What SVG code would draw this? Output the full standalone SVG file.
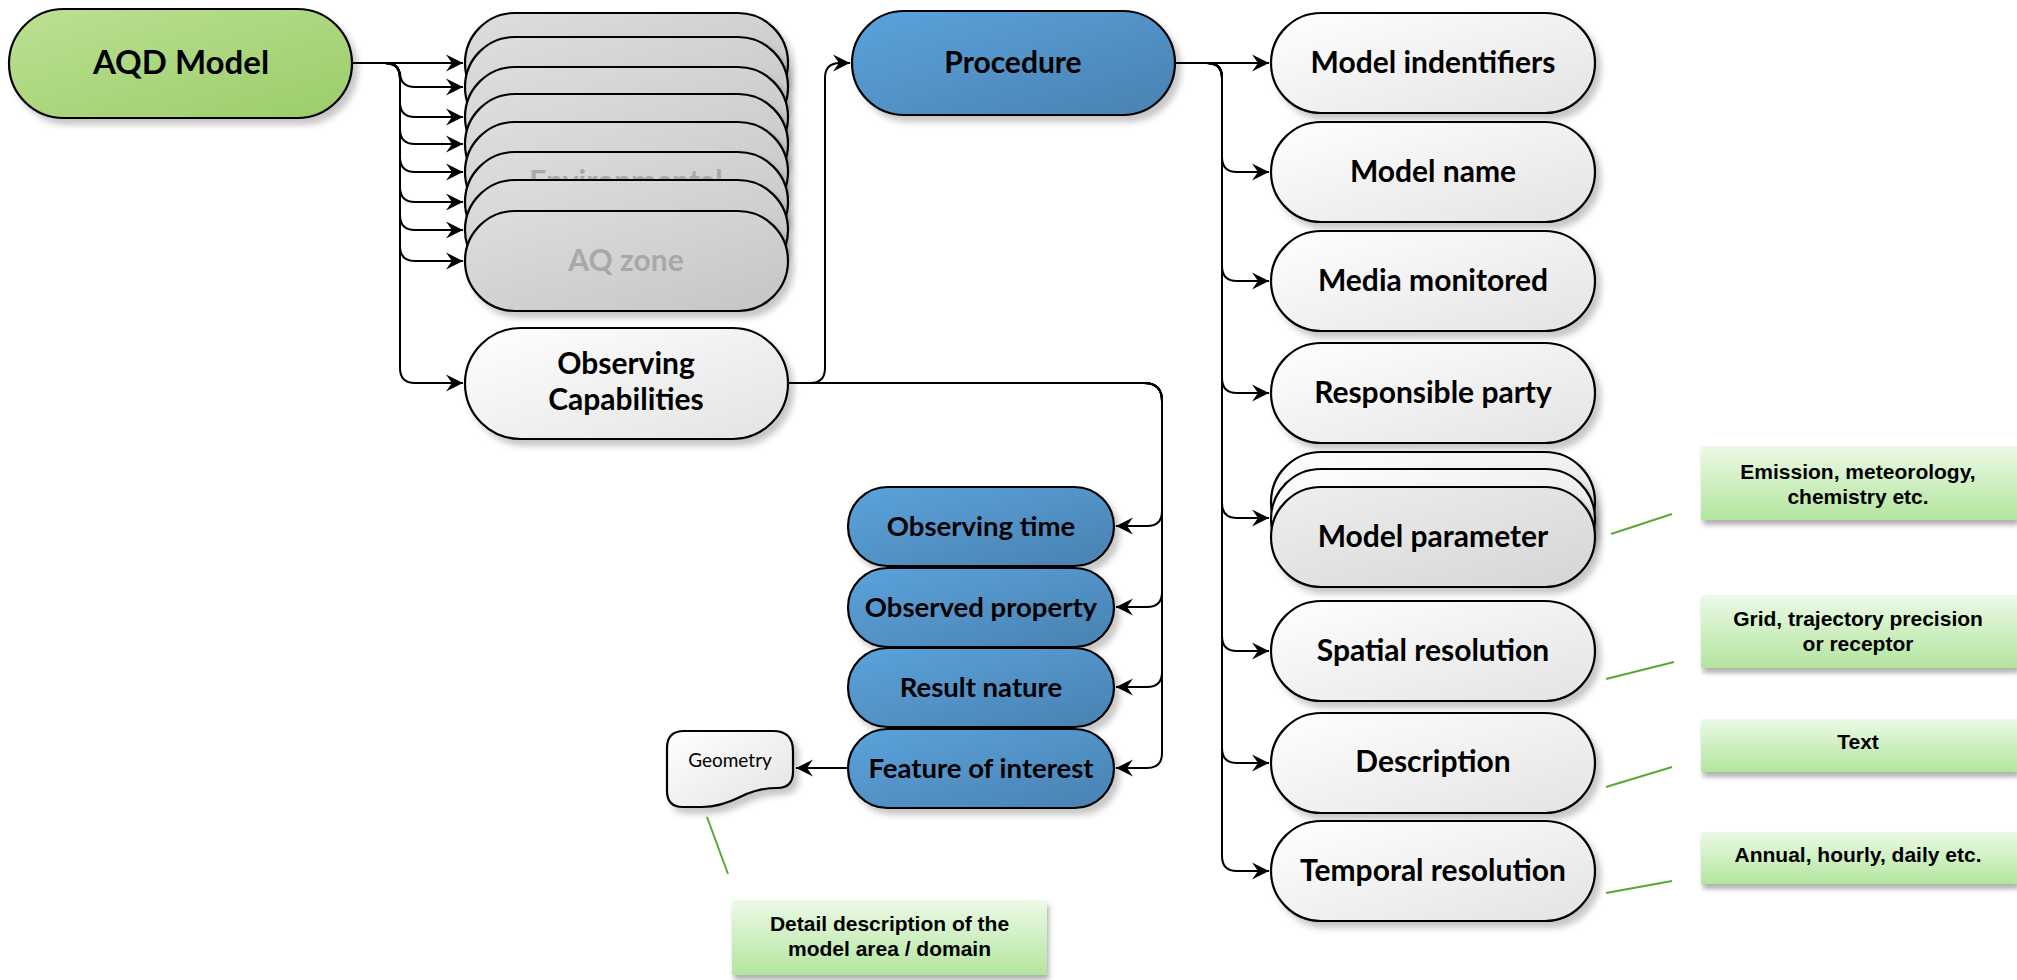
<svg xmlns="http://www.w3.org/2000/svg" width="2017" height="980" viewBox="0 0 2017 980">
<defs>
<linearGradient id="gWhite" x1="0" y1="0" x2="1" y2="1"><stop offset="0" stop-color="#ffffff"/><stop offset="1" stop-color="#e3e3e3"/></linearGradient>
<linearGradient id="gGray" x1="0" y1="0" x2="1" y2="1"><stop offset="0" stop-color="#dedede"/><stop offset="1" stop-color="#c5c5c5"/></linearGradient>
<linearGradient id="gParam" x1="0" y1="0" x2="1" y2="1"><stop offset="0" stop-color="#efefef"/><stop offset="1" stop-color="#d5d5d5"/></linearGradient>
<linearGradient id="gBlue" x1="0" y1="0" x2="1" y2="1"><stop offset="0" stop-color="#5aa3dc"/><stop offset="1" stop-color="#4a81b1"/></linearGradient>
<linearGradient id="gGreen" x1="0" y1="0" x2="1" y2="1"><stop offset="0" stop-color="#bce093"/><stop offset="1" stop-color="#9bcd69"/></linearGradient>
<linearGradient id="gNote" x1="0" y1="0" x2="0" y2="1"><stop offset="0" stop-color="#ecfae7"/><stop offset="1" stop-color="#b3e59e"/></linearGradient>
<filter id="sh" x="-10%" y="-10%" width="130%" height="140%"><feDropShadow dx="5" dy="6" stdDeviation="3" flood-color="#000" flood-opacity="0.22"/></filter>
<filter id="shn" x="-5%" y="-10%" width="115%" height="140%"><feDropShadow dx="2" dy="5" stdDeviation="2.5" flood-color="#000" flood-opacity="0.3"/></filter>
<marker id="arr" markerUnits="userSpaceOnUse" markerWidth="20" markerHeight="20" viewBox="-18 -10 20 20" refX="0" refY="0" orient="auto"><path d="M0,0 L-17,-8.5 L-11,0 L-17,8.5 Z" fill="#000"/></marker>
<style>
.pill{stroke:#000;stroke-width:2.2}
.w{fill:url(#gWhite)}
.g{fill:url(#gGray)}
.b{fill:url(#gBlue)}
.lbl{font-family:Lato,"Liberation Sans",sans-serif;font-weight:700;font-size:30px;text-anchor:middle;fill:#000}
.bl{font-size:27.5px}
.gt{fill:#a8a8a8}
.conn{fill:none;stroke:#000;stroke-width:2;marker-end:url(#arr)}
.note{fill:url(#gNote)}
.nt{font-family:"Liberation Sans",Arial,sans-serif;font-weight:700;font-size:21px;text-anchor:middle;fill:#000}
.lead{stroke:#5aa832;stroke-width:2;fill:none}
</style>
</defs>
<rect width="2017" height="980" fill="#ffffff"/>

<g id="connectors">
<path class="conn" d="M352,63 H463"/>
<path class="conn" d="M352,63 H385 Q400,63 400,78 V72 Q400,87 415,87 H463"/>
<path class="conn" d="M352,63 H385 Q400,63 400,78 V102 Q400,117 415,117 H463"/>
<path class="conn" d="M352,63 H385 Q400,63 400,78 V129 Q400,144 415,144 H463"/>
<path class="conn" d="M352,63 H385 Q400,63 400,78 V157 Q400,172 415,172 H463"/>
<path class="conn" d="M352,63 H385 Q400,63 400,78 V187 Q400,202 415,202 H463"/>
<path class="conn" d="M352,63 H385 Q400,63 400,78 V215 Q400,230 415,230 H463"/>
<path class="conn" d="M352,63 H385 Q400,63 400,78 V246 Q400,261 415,261 H463"/>
<path class="conn" d="M352,63 H385 Q400,63 400,78 V368 Q400,383 415,383 H463"/>
<path class="conn" d="M788,383 H810 Q825,383 825,368 V78 Q825,63 840,63 H850"/>
<path class="conn" d="M788,383 H1144 Q1162,383 1162,401 V511 Q1162,526 1147,526 H1116"/>
<path class="conn" d="M788,383 H1144 Q1162,383 1162,401 V592 Q1162,607 1147,607 H1116"/>
<path class="conn" d="M788,383 H1144 Q1162,383 1162,401 V672 Q1162,687 1147,687 H1116"/>
<path class="conn" d="M788,383 H1144 Q1162,383 1162,401 V753 Q1162,768 1147,768 H1116"/>
<path class="conn" d="M848,768 H796"/>
<path class="conn" d="M1175,63 H1269"/>
<path class="conn" d="M1175,63 H1207 Q1222,63 1222,78 V157 Q1222,172 1237,172 H1269"/>
<path class="conn" d="M1175,63 H1207 Q1222,63 1222,78 V266 Q1222,281 1237,281 H1269"/>
<path class="conn" d="M1175,63 H1207 Q1222,63 1222,78 V378 Q1222,393 1237,393 H1269"/>
<path class="conn" d="M1175,63 H1207 Q1222,63 1222,78 V503 Q1222,518 1237,518 H1269"/>
<path class="conn" d="M1175,63 H1207 Q1222,63 1222,78 V636 Q1222,651 1237,651 H1269"/>
<path class="conn" d="M1175,63 H1207 Q1222,63 1222,78 V748 Q1222,763 1237,763 H1269"/>
<path class="conn" d="M1175,63 H1207 Q1222,63 1222,78 V856 Q1222,871 1237,871 H1269"/>
<line class="lead" x1="1611" y1="534" x2="1672" y2="514"/>
<line class="lead" x1="1606" y1="679" x2="1674" y2="662"/>
<line class="lead" x1="1606" y1="787" x2="1672" y2="767"/>
<line class="lead" x1="1606" y1="893" x2="1672" y2="881"/>
<line class="lead" x1="707" y1="817" x2="728" y2="874"/>
</g>

<g id="aqd-model">
<rect class="pill" x="9" y="9" width="343" height="109" rx="54.5" fill="url(#gGreen)" filter="url(#sh)"/>
<text class="lbl" x="181" y="74" style="font-size:33px">AQD Model</text>
</g>

<g id="gray-stack">
<g id="gray-1"><rect class="pill g" x="465" y="13" width="323" height="100" rx="50" filter="url(#sh)"/></g>
<g id="gray-2"><rect class="pill g" x="465" y="37" width="323" height="100" rx="50" filter="url(#sh)"/></g>
<g id="gray-3"><rect class="pill g" x="465" y="67" width="323" height="100" rx="50" filter="url(#sh)"/></g>
<g id="gray-4"><rect class="pill g" x="465" y="94" width="323" height="100" rx="50" filter="url(#sh)"/></g>
<g id="gray-5"><rect class="pill g" x="465" y="122" width="323" height="100" rx="50" filter="url(#sh)"/></g>
<g id="gray-6"><rect class="pill g" x="465" y="152" width="323" height="100" rx="50" filter="url(#sh)"/>
<text class="lbl gt" x="626" y="192">Environmental</text></g>
<g id="gray-7"><rect class="pill g" x="465" y="180" width="323" height="100" rx="50" filter="url(#sh)"/></g>
<g id="aq-zone"><rect class="pill g" x="465" y="211" width="323" height="100" rx="50" filter="url(#sh)"/>
<text class="lbl gt" x="626" y="271">AQ zone</text></g>
</g>

<g id="observing-capabilities">
<rect class="pill w" x="465" y="328" width="323" height="111" rx="55.5" filter="url(#sh)"/>
<text class="lbl" x="626" y="374">Observing</text>
<text class="lbl" x="626" y="410">Capabilities</text>
</g>

<g id="procedure">
<rect class="pill b" x="852" y="11" width="323" height="104" rx="52" filter="url(#sh)"/>
<text class="lbl" x="1013" y="73">Procedure</text>
</g>

<g id="observing-time">
<rect class="pill b" x="848" y="487" width="266" height="79" rx="39.5" filter="url(#sh)"/>
<text class="lbl bl" x="981" y="536">Observing time</text>
</g>
<g id="observed-property">
<rect class="pill b" x="848" y="568" width="266" height="79" rx="39.5" filter="url(#sh)"/>
<text class="lbl bl" x="981" y="617">Observed property</text>
</g>
<g id="result-nature">
<rect class="pill b" x="848" y="648" width="266" height="79" rx="39.5" filter="url(#sh)"/>
<text class="lbl bl" x="981" y="697">Result nature</text>
</g>
<g id="feature-of-interest">
<rect class="pill b" x="848" y="729" width="266" height="79" rx="39.5" filter="url(#sh)"/>
<text class="lbl bl" x="981" y="778">Feature of interest</text>
</g>

<g id="geometry">
<path class="pill w" filter="url(#sh)" d="M684,731 H773 Q793,731 793,751 V772 Q793,788 777,788 C762,788 752,791 740,797 C728,803 716,807 702,807 H683 Q667,807 667,791 V748 Q667,731 684,731 Z"/>
<text x="730" y="767" style="font-family:Lato,'Liberation Sans',sans-serif;font-size:19px;text-anchor:middle;fill:#000">Geometry</text>
</g>

<g id="model-identifiers">
<rect class="pill w" x="1271" y="13" width="324" height="100" rx="50" filter="url(#sh)"/>
<text class="lbl" x="1433" y="73">Model indentifiers</text>
</g>
<g id="model-name">
<rect class="pill w" x="1271" y="122" width="324" height="100" rx="50" filter="url(#sh)"/>
<text class="lbl" x="1433" y="182">Model name</text>
</g>
<g id="media-monitored">
<rect class="pill w" x="1271" y="231" width="324" height="100" rx="50" filter="url(#sh)"/>
<text class="lbl" x="1433" y="291">Media monitored</text>
</g>
<g id="responsible-party">
<rect class="pill w" x="1271" y="343" width="324" height="100" rx="50" filter="url(#sh)"/>
<text class="lbl" x="1433" y="403">Responsible party</text>
</g>
<g id="model-parameter">
<rect class="pill w" x="1271" y="452" width="324" height="100" rx="50" filter="url(#sh)"/>
<rect class="pill w" x="1271" y="469" width="324" height="100" rx="50" filter="url(#sh)"/>
<rect class="pill" x="1271" y="487" width="324" height="100" rx="50" fill="url(#gParam)" filter="url(#sh)"/>
<text class="lbl" x="1433" y="547">Model parameter</text>
</g>
<g id="spatial-resolution">
<rect class="pill w" x="1271" y="601" width="324" height="100" rx="50" filter="url(#sh)"/>
<text class="lbl" x="1433" y="661">Spatial resolution</text>
</g>
<g id="description">
<rect class="pill w" x="1271" y="713" width="324" height="100" rx="50" filter="url(#sh)"/>
<text class="lbl" x="1433" y="772">Description</text>
</g>
<g id="temporal-resolution">
<rect class="pill w" x="1271" y="821" width="324" height="100" rx="50" filter="url(#sh)"/>
<text class="lbl" x="1433" y="881">Temporal resolution</text>
</g>

<g id="note-parameter">
<rect class="note" x="1701" y="446" width="316" height="74" filter="url(#shn)"/>
<text class="nt" x="1858" y="479">Emission, meteorology,</text>
<text class="nt" x="1858" y="504">chemistry etc.</text>
</g>
<g id="note-spatial">
<rect class="note" x="1701" y="595" width="316" height="73" filter="url(#shn)"/>
<text class="nt" x="1858" y="626">Grid, trajectory precision</text>
<text class="nt" x="1858" y="651">or receptor</text>
</g>
<g id="note-description">
<rect class="note" x="1701" y="719" width="316" height="53" filter="url(#shn)"/>
<text class="nt" x="1858" y="749">Text</text>
</g>
<g id="note-temporal">
<rect class="note" x="1701" y="832" width="316" height="52" filter="url(#shn)"/>
<text class="nt" x="1858" y="862">Annual, hourly, daily etc.</text>
</g>
<g id="note-geometry">
<rect class="note" x="732" y="900" width="315" height="75" filter="url(#shn)"/>
<text class="nt" x="889.5" y="931">Detail description of the</text>
<text class="nt" x="889.5" y="956">model area / domain</text>
</g>
</svg>
